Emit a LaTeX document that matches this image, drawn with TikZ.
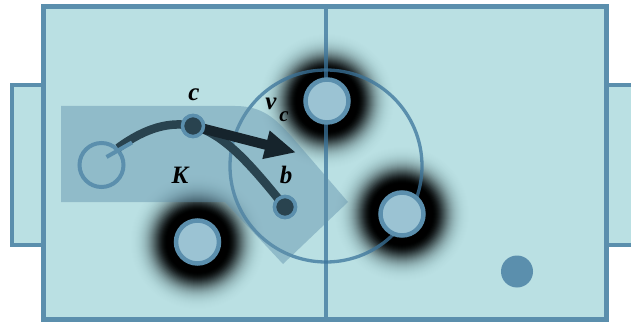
\documentclass[tikz,border=0pt]{standalone}
\usepackage{fontspec}
\setmainfont{Liberation Serif}
\usetikzlibrary{arrows.meta}
\definecolor{fieldc}{HTML}{BAE0E3}
\definecolor{linec}{HTML}{5B8FAD}
\definecolor{linedk}{HTML}{3B749B}
\definecolor{regionc}{HTML}{5F8FAA}
\definecolor{robotc}{HTML}{9BC3D3}
\definecolor{darkc}{HTML}{29434F}
\definecolor{arrowc}{HTML}{16242C}
\newcommand{\glowdisc}[1]{%
  \foreach \r in {68,67,...,31}{%
    \pgfmathsetmacro{\Oa}{exp(-((\r-30)/17)^2)}%
    \pgfmathsetmacro{\Ob}{exp(-((\r+1-30)/17)^2)}%
    \pgfmathsetmacro{\al}{1-(1-\Oa)/(1-\Ob)}%
    \fill[black, fill opacity=\al] #1 circle (\r);%
  }%
  \fill[black] #1 circle (30);%
}
\tikzset{
  fieldline/.style={draw=linedk, draw opacity=0.75, line width=3.5pt},
  goalbox/.style={draw=linec, fill=fieldc, line width=4pt},
  robot/.style={circle, draw=linec, fill=robotc, line width=4.5pt, minimum size=43pt, inner sep=0pt},
  ourrobot/.style={circle, draw=linec, line width=4pt, minimum size=44pt, inner sep=0pt},
  waypt/.style={circle, draw=linec, fill=darkc, line width=3.5pt, minimum size=21pt, inner sep=0pt},
  lbl/.style={font=\fontsize{25}{25}\selectfont\bfseries\itshape, inner sep=0pt}
}
\begin{document}
\begin{tikzpicture}[x=1pt,y=-1pt]
\useasboundingbox (0,0) rectangle (631,323);
\clip (0,0) rectangle (631,323);
% goals
\draw[goalbox] (12,85) rectangle (44,245);
\draw[goalbox] (606,85) rectangle (640,245);
% field
\draw[fill=fieldc, draw=linec, line width=5pt] (43.5,6.5) rectangle (606.5,319);
% glows
\glowdisc{(327,101)}
\glowdisc{(402,214)}
\glowdisc{(197.5,242)}
% field lines over glows
\draw[fieldline] (326,9) -- (326,316.5);
\draw[fieldline, line width=3.3pt] (326,166) circle (96);
% shaded region K
\fill[regionc, fill opacity=0.45] (61,106) -- (235,106) .. controls (262,106) and (275,118) .. (292,137) -- (348,202) -- (283,264) -- (225,202) -- (61,202) -- cycle;
% robots
\node[robot] (r1) at (327,101) {};
\node[robot] (r2) at (402,214) {};
\node[robot] (r3) at (197.5,242) {};
\node[ourrobot] (me) at (101.5,165) {};
\fill[linec] (517,271.5) circle (16);
% path
\coordinate (s) at (118,148);
\node[waypt] (c) at (193,126) {};
\node[waypt] (b) at (285,207) {};
\draw[darkc, line width=8.5pt] (s) .. controls (145,128) and (170,121) .. (c.center);
\draw[darkc, line width=8.5pt] (c.center) .. controls (225,133) and (255,170) .. (b.center);
\draw[linec, line width=4pt] (me.center) ++(5,-8) coordinate (s0) -- (132,142.5);
\coordinate (tip) at (296,152.5);
\draw[arrowc, line width=10pt, -{Triangle[length=31pt,width=27pt]}] (c.center) -- (tip);
\node[waypt] at (c) {};
\node[waypt] at (b) {};
% labels
\node[lbl] (lc) at (194,95) {c};
\node[lbl] (lv) at (271,104) {v};
\node[lbl, font=\fontsize{21}{21}\selectfont\bfseries\itshape] (lvc) at (284,117) {c};
\node[lbl] (lK) at (180,175) {K};
\node[lbl] (lb) at (286,175) {b};
\end{tikzpicture}
\end{document}
